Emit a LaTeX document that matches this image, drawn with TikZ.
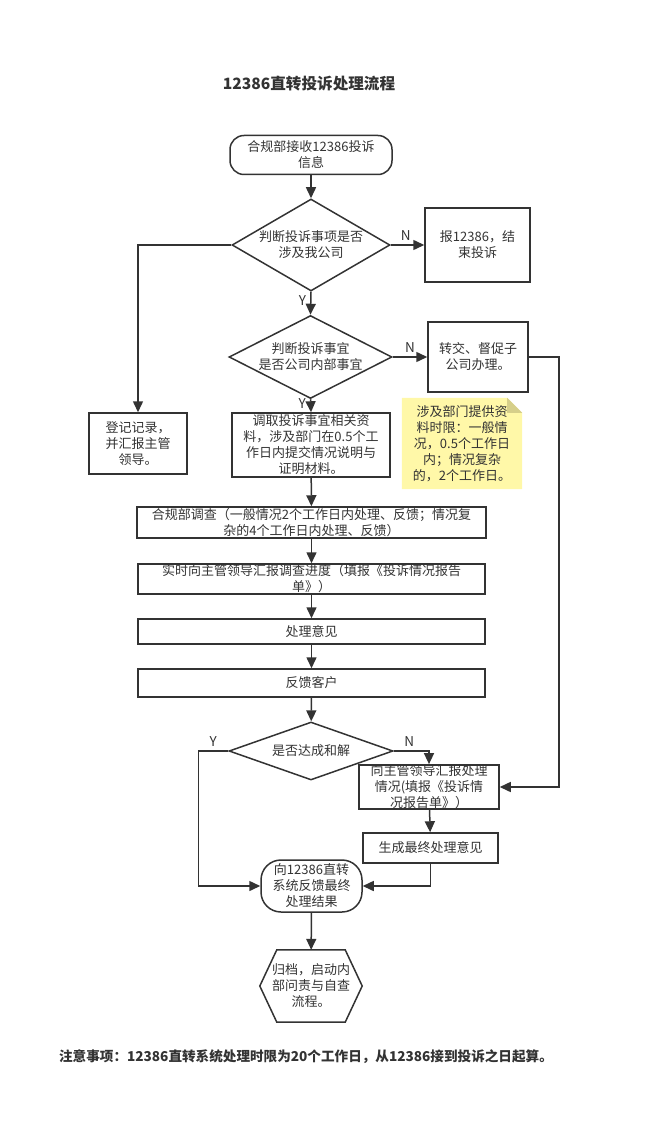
\documentclass[tikz,border=0pt]{standalone}
\usepackage{fontspec}
\setmainfont{Noto Sans CJK SC}
\usetikzlibrary{shapes.geometric,arrows.meta,backgrounds}
\definecolor{ink}{HTML}{333333}
\definecolor{notefill}{HTML}{FFF8A8}
\definecolor{notefold}{HTML}{D6CF8A}

\begin{document}
\begin{tikzpicture}[x=1pt,y=-1pt,
    every node/.style={font=\fontsize{13}{16}\selectfont, text=ink, align=center, inner sep=0pt},
    box/.style={draw=ink, line width=1.5pt, rectangle},
    term/.style={draw=ink, line width=1.5pt, rounded corners=#1},
    decide/.style={draw=ink, line width=1.5pt, diamond},
    flow/.style={draw=ink, line width=1.5pt, -{Triangle[length=11pt,width=10pt]}},
    lab/.style={font=\fontsize{13.5}{14}\selectfont}]
    \useasboundingbox (0,0) rectangle (649,1147);

    \node[font=\fontsize{15.6}{19}\selectfont\bfseries] (title) at (309,84) {12386直转投诉处理流程};

    \node[term=14pt, minimum width=162pt, minimum height=39pt] (recv) at (311,155) {合规部接收12386投诉\\信息};
    \node[decide, minimum width=158pt, minimum height=92pt, aspect=1.7] (scope) at (311,245) {判断投诉事项是否\\涉及我公司};
    \node[box, minimum width=105pt, minimum height=74pt] (close) at (477.5,245) {报12386，结\\束投诉};
    \node[decide, minimum width=163pt, minimum height=83pt, aspect=2] (inner) at (310.5,357) {判断投诉事宜\\是否公司内部事宜};
    \node[box, minimum width=100pt, minimum height=70pt] (fwd) at (478,357) {转交、督促子\\公司办理。};
    \node[box, minimum width=98pt, minimum height=61pt] (reg) at (138,443.5) {登记记录，\\并汇报主管\\领导。};
    \node[box, minimum width=158pt, minimum height=64pt] (fetch) at (311,445) {调取投诉事宜相关资\\料，涉及部门在0.5个工\\作日内提交情况说明与\\证明材料。};
    \node[minimum width=120pt, minimum height=91pt] (limit) at (462,443.5) {涉及部门提供资\\料时限：一般情\\况，0.5个工作日\\内；情况复杂\\的，2个工作日。};
    \node[box, minimum width=349pt, minimum height=31pt] (inv) at (311.5,522.5) {合规部调查（一般情况2个工作日内处理、反馈；情况复\\杂的4个工作日内处理、反馈）};
    \node[box, minimum width=347pt, minimum height=30pt] (rep) at (311.5,579) {实时向主管领导汇报调查进度（填报《投诉情况报告\\单》）};
    \node[box, minimum width=347pt, minimum height=25pt] (opin) at (311.5,631.5) {处理意见};
    \node[box, minimum width=347pt, minimum height=28pt] (back) at (311.5,683) {反馈客户};
    \node[decide, minimum width=164pt, minimum height=58pt, aspect=2.8] (agree) at (311,751) {是否达成和解};
    \node[box, minimum width=140pt, minimum height=42pt] (lead) at (429,787) {向主管领导汇报处理\\情况(填报《投诉情\\况报告单》）};
    \node[box, minimum width=135pt, minimum height=30pt] (final) at (430.5,848) {生成最终处理意见};
    \node[term=20pt, minimum width=101pt, minimum height=52pt] (result) at (311.5,886) {向12386直转\\系统反馈最终\\处理结果};
    \node[minimum width=102pt, minimum height=72pt] (arch) at (311,986) {归档，启动内\\部问责与自查\\流程。};

    \node[font=\fontsize{13.6}{17}\selectfont\bfseries] (foot) at (306,1057) {注意事项：12386直转系统处理时限为20个工作日，从12386接到投诉之日起算。};

    % note and hexagon
    \begin{scope}[on background layer]
        \fill[notefill] (limit.south west) -- (limit.north west) -- ([xshift=-15pt]limit.north east)
            -- ([yshift=-15pt]limit.north east) -- (limit.south east) -- cycle;
        \fill[notefold] ([xshift=-15pt]limit.north east) -- ([yshift=-15pt]limit.north east)
            -- ([xshift=-15pt,yshift=-15pt]limit.north east) -- cycle;
    \end{scope}
    \draw[ink, line width=1.5pt] (arch.west) -- ([xshift=17pt]arch.north west) -- ([xshift=-17pt]arch.north east)
        -- (arch.east) -- ([xshift=-17pt]arch.south east) -- ([xshift=17pt]arch.south west) -- cycle;

    \draw[flow] (recv) -- (scope);
    \draw[flow] (scope.east) -- node[lab, above=4pt, pos=0.45] {N} (close.west);
    \draw[flow] (scope.south) -- node[lab, left=4pt, pos=0.4] {Y} (inner.north);
    \draw[flow] (scope.west) -| (reg.north);
    \draw[flow] (inner.east) -- node[lab, above=4pt, pos=0.5] {N} (fwd.west);
    \draw[flow] (inner.south) -- node[lab, left=4pt, pos=0.3] {Y} (fetch.north);
    \draw[flow] (fetch) -- (inv);
    \draw[flow] (inv) -- (rep);
    \draw[flow] (rep) -- (opin);
    \draw[flow] (opin) -- (back);
    \draw[flow] (back) -- (agree);
    \draw[flow] (agree.west) -- node[lab, above=4pt, pos=0.5] {Y} ++(-30,0) |- (result.west);
    \draw[flow] (agree.east) -| node[lab, above=4pt, pos=0.22] {N} (lead.north);
    \draw[flow] (fwd.east) -- ++(30,0) |- (lead.east);
    \draw[flow] (lead) -- (final);
    \draw[flow] (final.south) |- (result.east);
    \draw[flow] (result) -- (arch);
\end{tikzpicture}
\end{document}
